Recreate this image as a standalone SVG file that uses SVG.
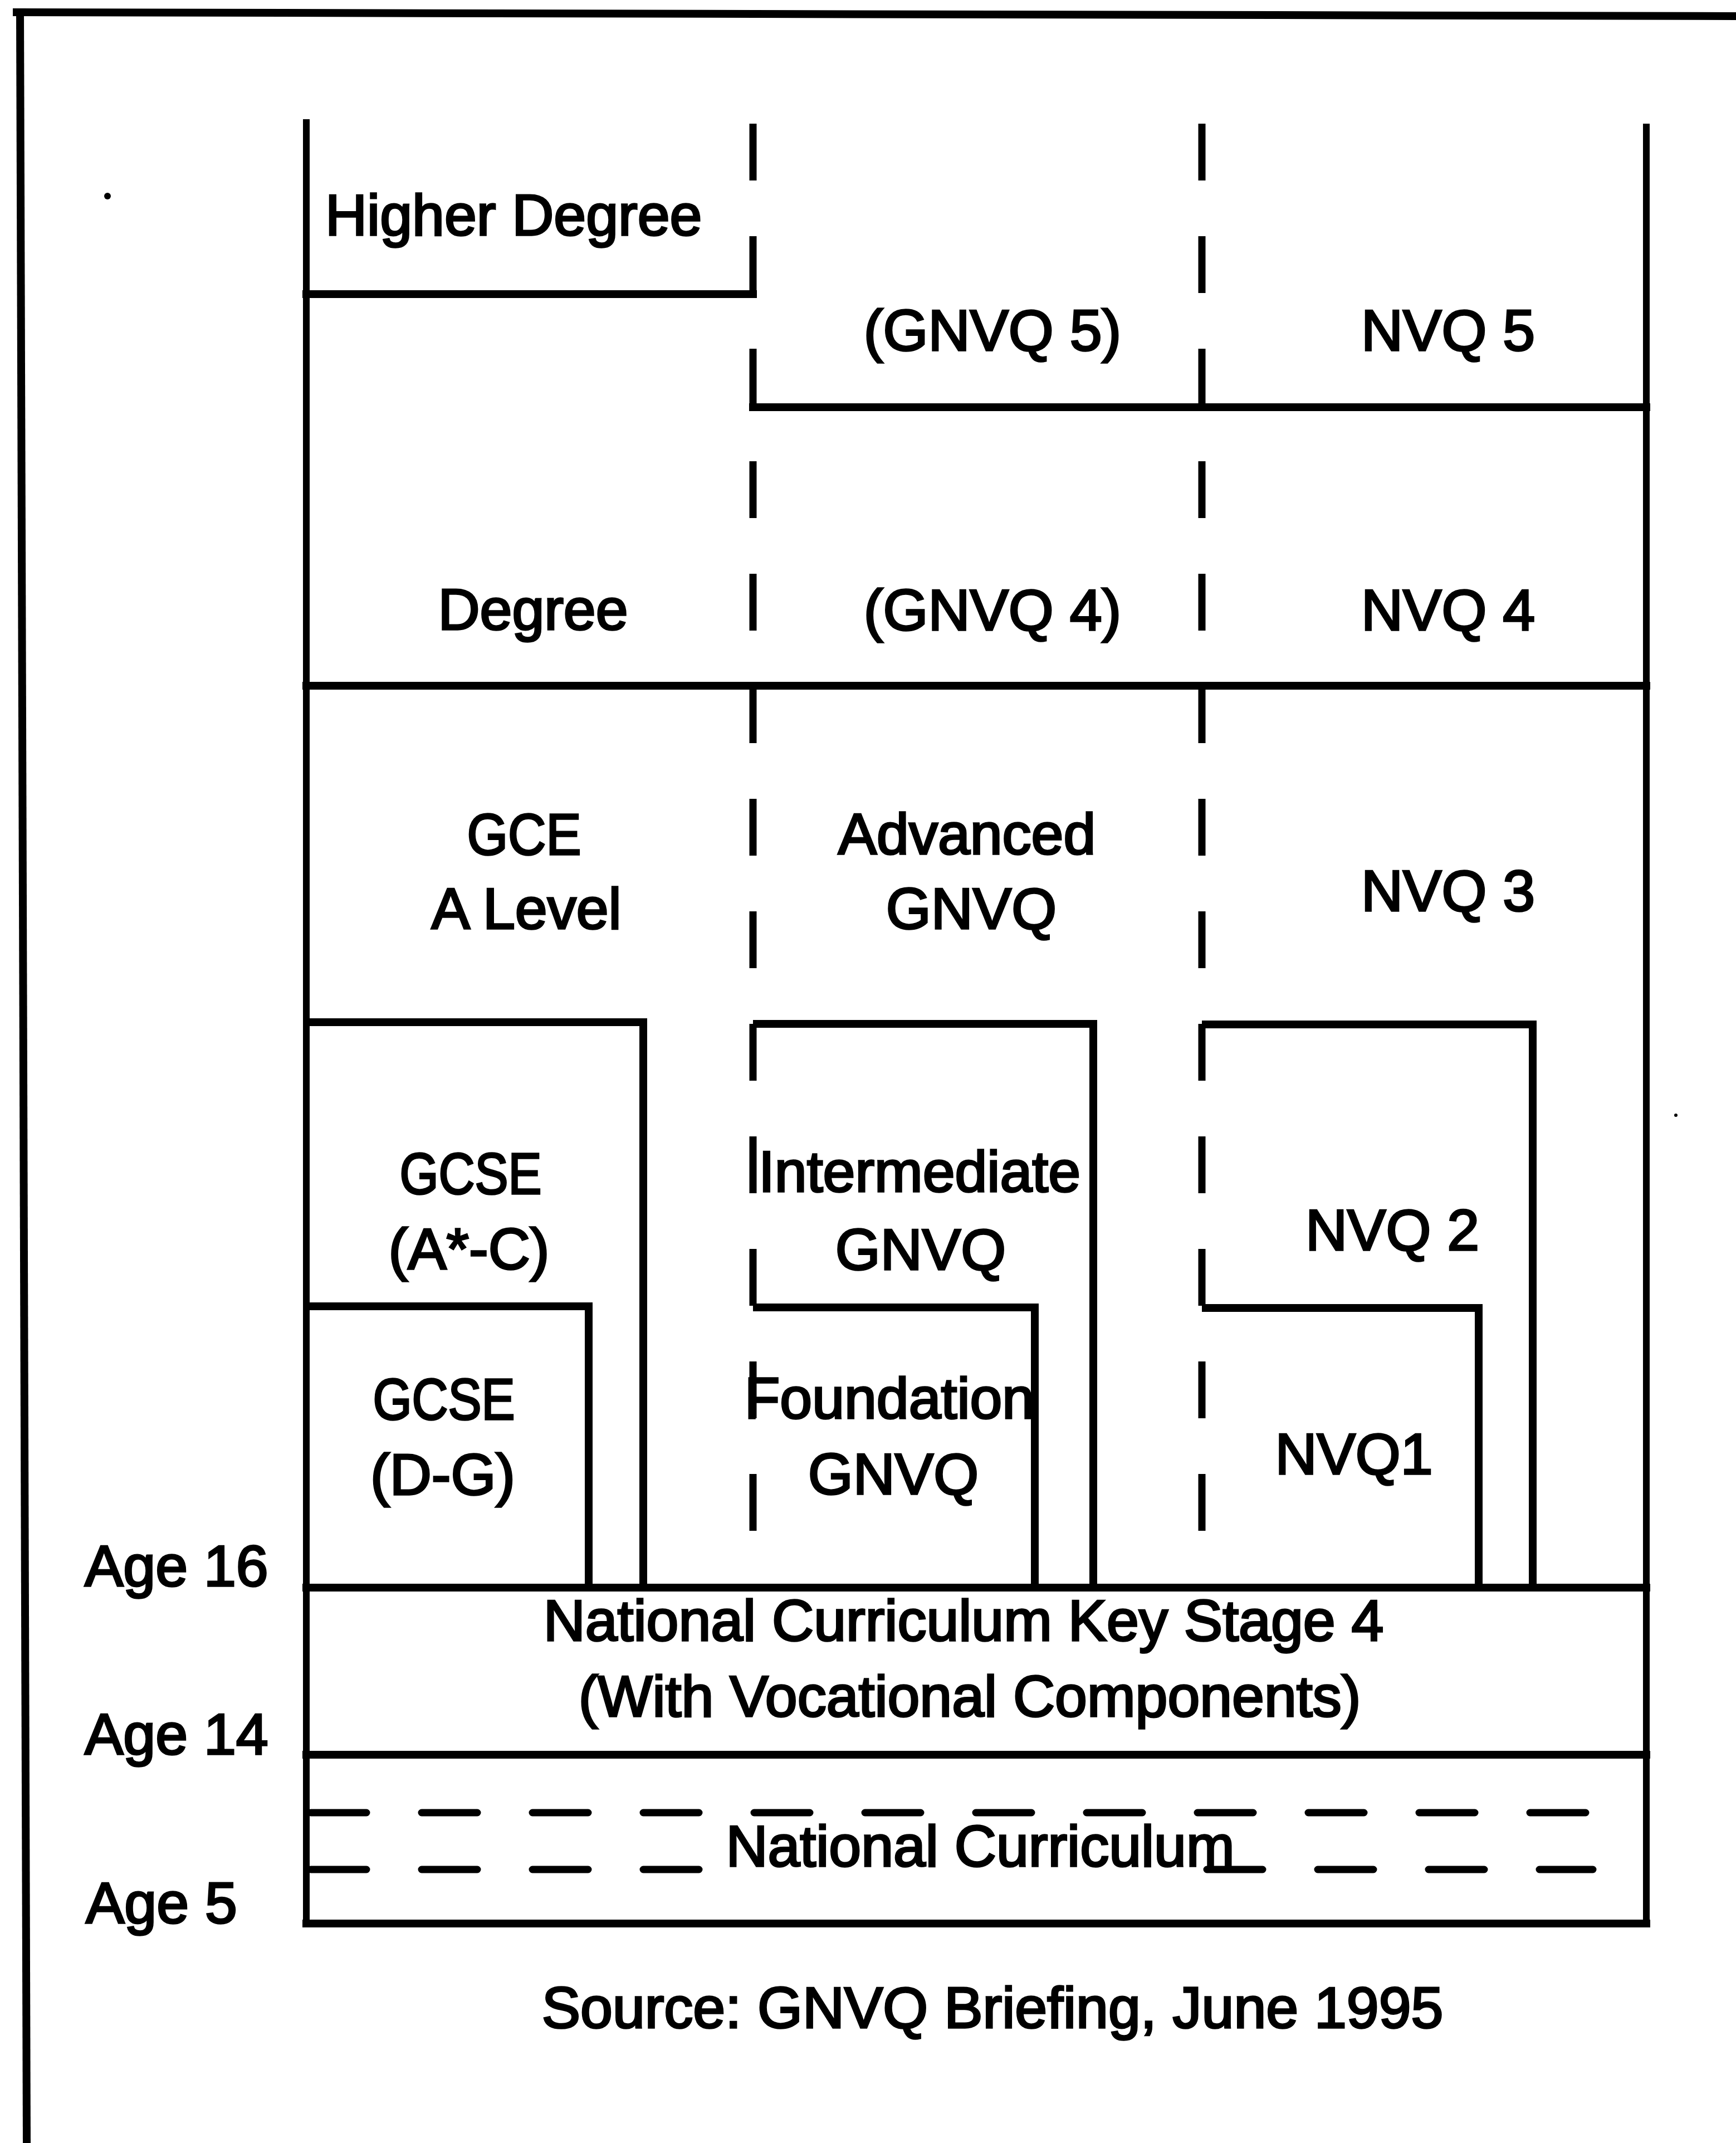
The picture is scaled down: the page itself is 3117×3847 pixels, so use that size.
<svg xmlns="http://www.w3.org/2000/svg" width="3117" height="3847" viewBox="0 0 3117 3847">
<style>
.t{font-family:"Liberation Sans",Arial,sans-serif;font-size:104px;fill:#000;stroke:#000;stroke-width:3.5px;}
.m{text-anchor:middle;}
.h{stroke:#000;stroke-width:14;fill:none;stroke-linecap:square;}
.v{stroke:#000;stroke-width:12;fill:none;}
.d{stroke:#000;stroke-width:13;fill:none;stroke-dasharray:102 100;}
.hd{stroke:#000;stroke-width:13;fill:none;stroke-dasharray:100 99;stroke-linecap:round;}
</style>
<rect width="3117" height="3847" fill="#fff"/>
<g id="frame">
<line x1="30" y1="22" x2="3117" y2="29" class="h"/>
<line x1="36" y1="22" x2="48" y2="3847" stroke="#000" stroke-width="14"/>
<circle cx="193" cy="352" r="6" fill="#000"/>
<circle cx="3009" cy="2002" r="3" fill="#000"/>
</g>
<g id="connectors">
<line x1="550" y1="214" x2="550" y2="3460" class="v"/>
<line x1="2956" y1="222" x2="2956" y2="3460" class="v"/>
<line x1="1352" y1="222" x2="1352" y2="2750" class="d"/>
<line x1="2158" y1="222" x2="2158" y2="2750" class="d"/>
<line x1="550" y1="528" x2="1352" y2="528" class="h"/>
<line x1="1352" y1="731" x2="2956" y2="731" class="h"/>
<line x1="550" y1="1231" x2="2956" y2="1231" class="h"/>
<line x1="550" y1="2850" x2="2956" y2="2850" class="h"/>
<line x1="550" y1="3150" x2="2956" y2="3150" class="h"/>
<line x1="550" y1="3453" x2="2956" y2="3453" class="h"/>
<line x1="558" y1="3254" x2="2860" y2="3254" class="hd"/>
<line x1="558" y1="3356" x2="1260" y2="3356" class="hd"/>
<line x1="2167" y1="3356" x2="2860" y2="3356" class="hd"/>
</g>
<g id="higher-degree"><text class="t" x="584" y="422">Higher Degree</text></g>
<g id="gnvq5"><text class="t m" x="1782" y="629">(GNVQ 5)</text></g>
<g id="nvq5"><text class="t m" x="2600" y="629">NVQ 5</text></g>
<g id="degree"><text class="t m" x="957" y="1130">Degree</text></g>
<g id="gnvq4"><text class="t m" x="1782" y="1131">(GNVQ 4)</text></g>
<g id="nvq4"><text class="t m" x="2600" y="1131">NVQ 4</text></g>
<g id="gce"><text class="t m" x="941" y="1534" textLength="205" lengthAdjust="spacingAndGlyphs">GCE</text><text class="t m" x="945" y="1667">A Level</text></g>
<g id="advanced-gnvq"><text class="t m" x="1736" y="1533">Advanced</text><text class="t m" x="1744" y="1667">GNVQ</text></g>
<g id="nvq3"><text class="t m" x="2600" y="1635">NVQ 3</text></g>
<g id="gcse-ac">
<path d="M550 1835 H1155 V2850" class="h" style="stroke-linecap:butt"/>
<text class="t m" x="845" y="2143" textLength="255" lengthAdjust="spacingAndGlyphs">GCSE</text><text class="t m" x="842" y="2278">(A*-C)</text></g>
<g id="gcse-dg">
<path d="M550 2345 H1057 V2850" class="h" style="stroke-linecap:butt"/>
<text class="t m" x="797" y="2548" textLength="255" lengthAdjust="spacingAndGlyphs">GCSE</text><text class="t m" x="795" y="2683">(D-G)</text></g>
<g id="intermediate-gnvq">
<path d="M1352 1838 H1963 V2850" class="h" style="stroke-linecap:butt"/>
<text class="t m" x="1651" y="2139">Intermediate</text><text class="t m" x="1653" y="2279">GNVQ</text></g>
<g id="foundation-gnvq">
<path d="M1352 2347 H1858 V2850" class="h" style="stroke-linecap:butt"/>
<text class="t m" x="1597" y="2546">Foundation</text><text class="t m" x="1604" y="2682">GNVQ</text></g>
<g id="nvq2">
<path d="M2158 1839 H2752 V2850" class="h" style="stroke-linecap:butt"/>
<text class="t m" x="2500" y="2244">NVQ 2</text></g>
<g id="nvq1">
<path d="M2158 2348 H2655 V2850" class="h" style="stroke-linecap:butt"/>
<text class="t m" x="2431" y="2646">NVQ1</text></g>
<g id="ks4"><text class="t m" x="1730" y="2945">National Curriculum Key Stage 4</text><text class="t m" x="1741" y="3081">(With Vocational Components)</text></g>
<g id="nc"><text class="t m" x="1760" y="3350">National Curriculum</text></g>
<g id="ages">
<text class="t" x="152" y="2847">Age 16</text>
<text class="t" x="152" y="3149">Age 14</text>
<text class="t" x="154" y="3452">Age 5</text>
</g>
<g id="source"><text class="t m" x="1782" y="3640">Source: GNVQ Briefing, June 1995</text></g>
</svg>
